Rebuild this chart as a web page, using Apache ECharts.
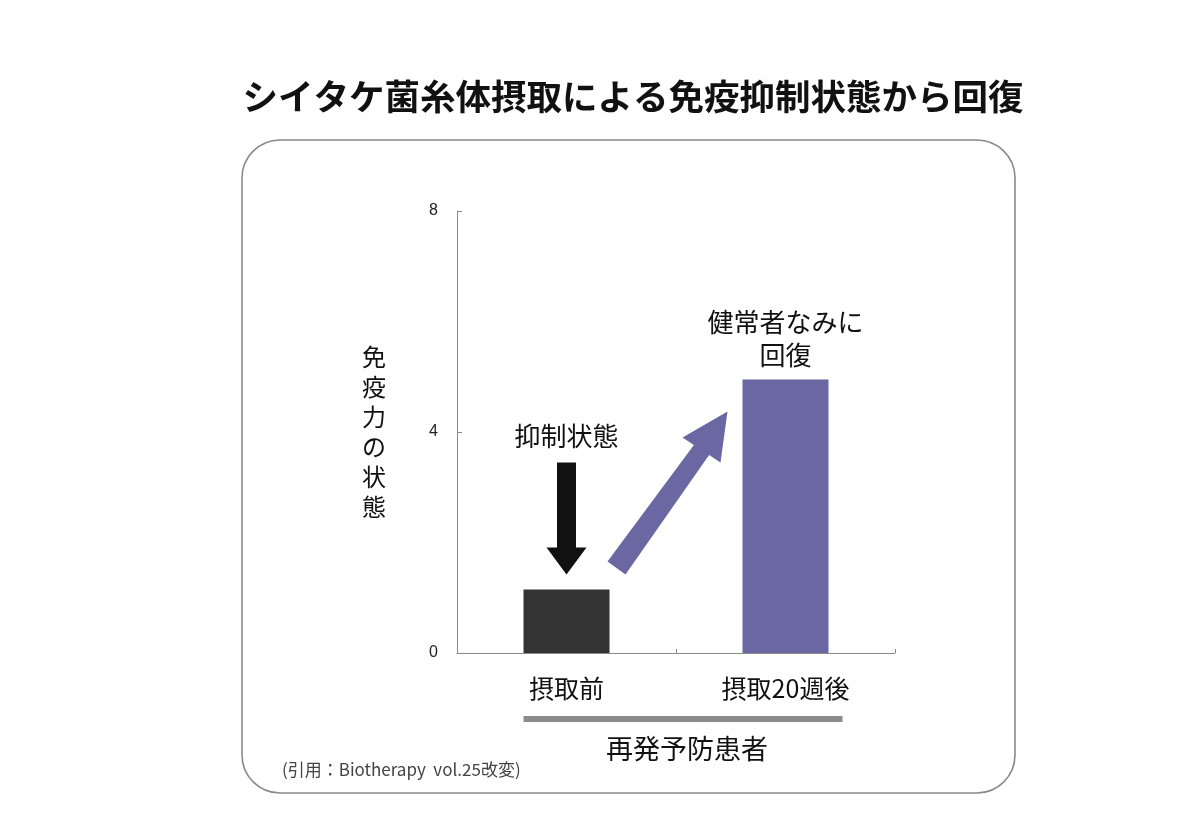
<!DOCTYPE html>
<html>
<head>
<meta charset="utf-8">
<script src="https://cdn.jsdelivr.net/npm/echarts@6/dist/echarts.min.js"></script>
<style>html,body{margin:0;padding:0;background:#fff;}#c{width:1200px;height:830px;}</style>
</head>
<body>
<div id="c"></div>
<script>
const titleText = 'シイタケ菌糸体摂取による免疫抑制状態から回復';
const categories = ['摂取前', '摂取20週後'];
const values = [1.15, 4.95];
const barColors = ['#333333', '#6a67a3'];
const yTicks = [0, 4, 8];
const yAxisName = '免疫力の状態';
const groupLabel = '再発予防患者';
const noteBefore = '抑制状態';
const noteAfter = '健常者なみに\n回復';
const citation = '(引用：Biotherapy  vol.25改変)';

const FONT = '"Noto Sans CJK JP", "Noto Sans", sans-serif';
const chart = echarts.init(document.getElementById('c'));

const option = {
  backgroundColor: '#ffffff',
  animation: false,
  title: {
    text: titleText,
    left: 628,
    top: 74,
    textAlign: 'center',
    textStyle: { fontFamily: FONT, fontSize: 35.5, fontWeight: 'bold', color: '#111' }
  },
  grid: { left: 457, right: 305, top: 211, bottom: 177 },
  xAxis: {
    type: 'category',
    data: categories,
    axisLine: { lineStyle: { color: '#8a8a8a', width: 1 } },
    axisTick: { show: true, inside: true, length: 4, lineStyle: { color: '#8a8a8a' } },
    axisLabel: { margin: 23, fontFamily: FONT, fontSize: 25, color: '#111' }
  },
  yAxis: {
    type: 'value',
    min: 0, max: 8, interval: 4,
    name: yAxisName.split('').join('\n'),
    nameLocation: 'middle',
    nameRotate: 0,
    nameGap: 71,
    nameTextStyle: { fontFamily: FONT, fontSize: 24, color: '#111', lineHeight: 30 },
    axisLine: { show: true, lineStyle: { color: '#8a8a8a', width: 1 } },
    axisTick: { show: true, inside: true, length: 5, lineStyle: { color: '#8a8a8a' } },
    axisLabel: { margin: 19, fontFamily: '"Liberation Sans", Arial, sans-serif', fontSize: 16, color: '#222',
      formatter: v => yTicks.includes(v) ? String(v) : '' },
    splitLine: { show: false }
  },
  series: [{
    type: 'bar',
    barWidth: 86,
    data: values.map((v, i) => ({ value: v, itemStyle: { color: barColors[i] } }))
  }],
  graphic: [{
    type: 'rect', z: -1,
    shape: { x: 242, y: 140, width: 773, height: 653, r: 38 },
    style: { fill: 'none', stroke: '#8a8a8a', lineWidth: 1.6 }
  }]
};
chart.setOption(option);

// Annotations placed relative to data positions
const p0 = chart.convertToPixel({ seriesIndex: 0 }, [0, values[0]]);
const p1 = chart.convertToPixel({ seriesIndex: 0 }, [1, values[1]]);
const base = chart.convertToPixel({ seriesIndex: 0 }, [0, 0]);
const bw = 86;

// black down arrow above bar 0
const dTop = p0[1] - 127, dHeadStart = p0[1] - 42, dTip = p0[1] - 15;
const cx0 = p0[0];
const downArrow = [
  [cx0 - 9.5, dTop], [cx0 + 9.5, dTop], [cx0 + 9.5, dHeadStart], [cx0 + 20, dHeadStart],
  [cx0, dTip], [cx0 - 20, dHeadStart], [cx0 - 9.5, dHeadStart]
];

// purple diagonal arrow from bar 0 toward bar 1
const tA = [p0[0] + 41, p0[1] - 28];
const tB = [p0[0] + 59, p0[1] - 15];
const tip = [p1[0] - 58, p1[1] + 32];
const hA = [p1[0] - 103, p1[1] + 58];
const hB = [p1[0] - 65, p1[1] + 83];
function lerp(a, b, t) { return [a[0] + (b[0] - a[0]) * t, a[1] + (b[1] - a[1]) * t]; }
const sA = lerp(hA, hB, 0.3), sB = lerp(hA, hB, 0.7);
const diagArrow = [tA, sA, hA, tip, hB, sB, tB];

const groupY = base[1] + 66;
const gx0 = p0[0] - bw / 2, gx1 = p1[0] + bw / 2 + 14;

chart.setOption({
  graphic: [
    {
      type: 'rect', z: -1,
      shape: { x: 242, y: 140, width: 773, height: 653, r: 38 },
      style: { fill: 'none', stroke: '#8a8a8a', lineWidth: 1.6 }
    },
    { type: 'polygon', shape: { points: downArrow }, style: { fill: '#111111' } },
    { type: 'polygon', shape: { points: diagArrow }, style: { fill: '#6a67a3' } },
    {
      type: 'text', x: cx0, y: p0[1] - 153,
      style: { text: noteBefore, fontFamily: FONT, fontSize: 26, fill: '#111', align: 'center', verticalAlign: 'middle' }
    },
    {
      type: 'text', x: p1[0], y: p1[1] - 41,
      style: { text: noteAfter, fontFamily: FONT, fontSize: 26, lineHeight: 33, fill: '#111', align: 'center', verticalAlign: 'middle' }
    },
    {
      type: 'rect', shape: { x: gx0, y: groupY - 3, width: gx1 - gx0, height: 6 },
      style: { fill: '#8c8c8c' }
    },
    {
      type: 'text', x: (gx0 + gx1) / 2 + 4, y: groupY + 30,
      style: { text: groupLabel, fontFamily: FONT, fontSize: 27, fill: '#111', align: 'center', verticalAlign: 'middle' }
    },
    {
      type: 'text', x: 282, y: 770,
      style: { text: citation, fontFamily: '"Noto Sans CJK JP", "Liberation Sans", sans-serif', fontSize: 17, fill: '#444', align: 'left', verticalAlign: 'middle' }
    }
  ]
});
</script>
</body>
</html>
